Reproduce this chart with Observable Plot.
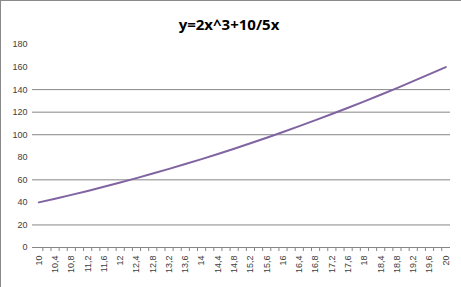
<!DOCTYPE html>
<html>
<head>
<meta charset="utf-8">
<script src="https://cdn.jsdelivr.net/npm/d3@7"></script>
<script src="https://cdn.jsdelivr.net/npm/@observablehq/plot@0.6"></script>
<style>
  html, body { margin: 0; padding: 0; background: #fff; }
  #wrap { position: relative; width: 461px; height: 287px; overflow: hidden; }
  #title { position: absolute; left: 0; width: 458px; top: 14px; text-align: center;
           font: bold 15px "Open Sans", "Liberation Sans", Arial, sans-serif; color: #000; }
  #border { position: absolute; left: 0; top: 0; width: 461px; height: 287px; box-sizing: border-box;
            border-left: 1px solid #8a8a8a; border-top: 1px solid #8a8a8a; pointer-events: none; }
</style>
</head>
<body>
<div id="wrap">
  <div id="chart"></div>
  <div id="title">y=2x^3+10/5x</div>
  <div id="border"></div>
</div>
<script>
const xs = [10, 10.4, 10.8, 11.2, 11.6, 12, 12.4, 12.8, 13.2, 13.6, 14, 14.4, 14.8,
            15.2, 15.6, 16, 16.4, 16.8, 17.2, 17.6, 18, 18.4, 18.8, 19.2, 19.6, 20];
const ys = [40, 43.26, 46.66, 50.18, 53.82, 57.6, 61.5, 65.54, 69.7, 73.98, 78.4, 82.94, 87.62,
            92.42, 97.34, 102.4, 107.58, 112.9, 118.34, 123.9, 129.6, 135.42, 141.38, 147.46, 153.66, 160];
const xLabels = ["10", "10,4", "10,8", "11,2", "11,6", "12", "12,4", "12,8", "13,2", "13,6", "14", "14,4", "14,8",
                 "15,2", "15,6", "16", "16,4", "16,8", "17,2", "17,6", "18", "18,4", "18,8", "19,2", "19,6", "20"];
const yTicks = [0, 20, 40, 60, 80, 100, 120, 140, 160, 180];
const gridValues = [20, 60, 100, 120, 140];
const baseline = [0];
const xTickMarks = [10.1, 10.3, 10.5, 10.7, 10.9, 11.1, 11.3, 11.5, 11.7, 11.9, 12.1, 12.3, 12.5, 12.7, 12.9,
                    13.1, 13.3, 13.5, 13.7, 13.9, 14.1, 14.3, 14.5, 14.7, 14.9, 15.1, 15.3, 15.5, 15.7, 15.9,
                    16.1, 16.3, 16.5, 16.7, 16.9, 17.1, 17.3, 17.5, 17.7, 17.9, 18.1, 18.3, 18.5, 18.7, 18.9,
                    19.1, 19.3, 19.5, 19.7, 19.9];

const data = xs.map((x, i) => ({x, y: ys[i]}));
const labelFont = "Liberation Sans, Arial, sans-serif";

const chart = Plot.plot({
  width: 461,
  height: 287,
  marginTop: 44,
  marginBottom: 40,
  marginLeft: 32,
  marginRight: 11,
  style: {fontFamily: labelFont, fontSize: "9px", background: "transparent", overflow: "visible"},
  x: {type: "linear", domain: [10, 20], insetLeft: 6.3, insetRight: 4.7, label: null},
  y: {domain: [0, 180], label: null},
  marks: [
    Plot.ruleY(gridValues, {stroke: "#868686", strokeWidth: 1}),
    Plot.ruleY(baseline, {stroke: "#868686", strokeWidth: 1}),
    Plot.axisX(xTickMarks, {tickSize: 4, tickFormat: () => "", label: null, stroke: "#868686", strokeOpacity: 1}),
    Plot.axisX(xs, {tickSize: 0, tickPadding: 8, tickRotate: -90, label: null,
                    tickFormat: d => xLabels[xs.indexOf(d)], fill: "#404040", fontSize: 9}),
    Plot.axisY(yTicks, {tickSize: 0, tickPadding: 5, label: null, fill: "#404040", fontSize: 9}),
    Plot.line(data, {x: "x", y: "y", stroke: "#8064A2", strokeWidth: 2})
  ]
});
document.getElementById("chart").appendChild(chart);
</script>
</body>
</html>
